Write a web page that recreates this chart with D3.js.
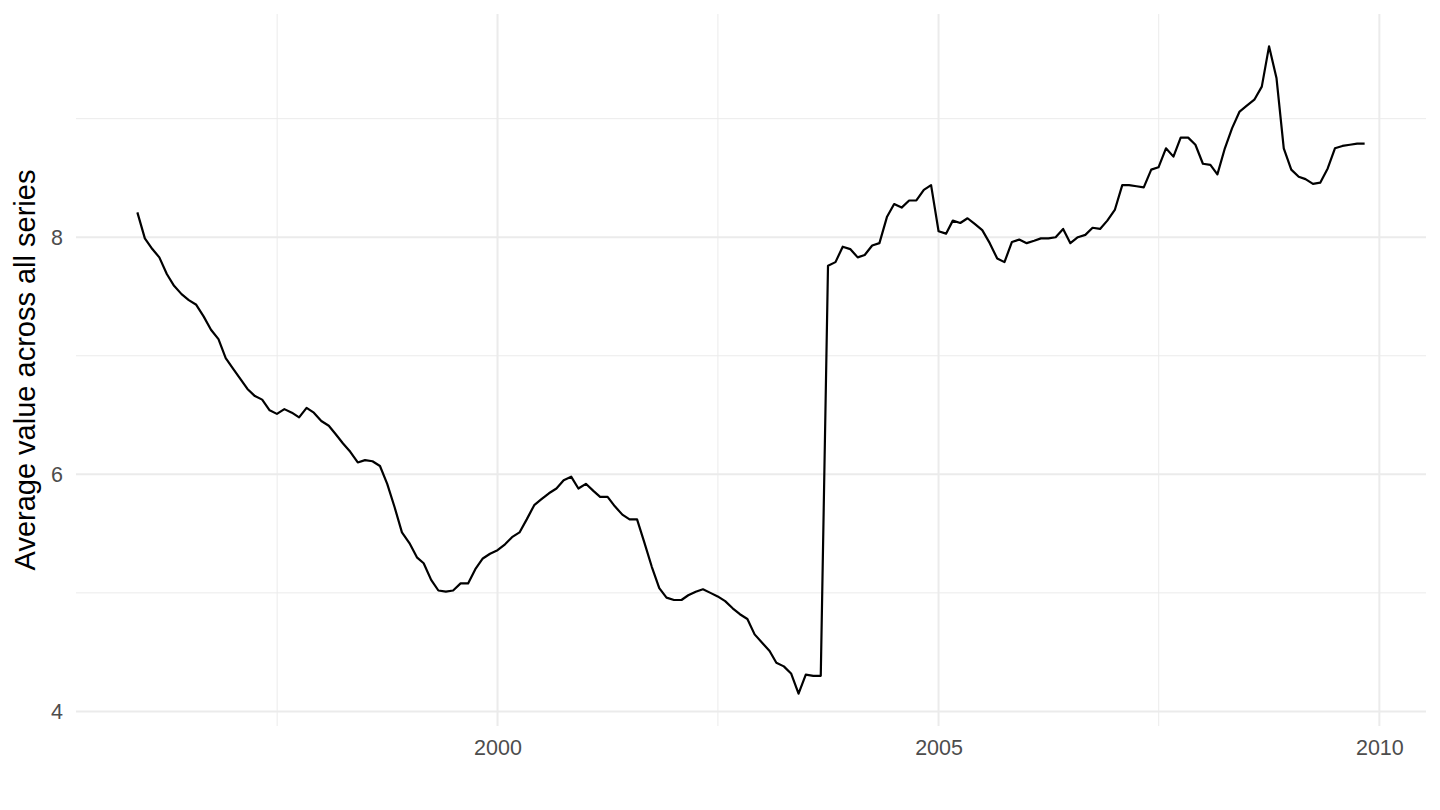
<!DOCTYPE html>
<html>
<head>
<meta charset="utf-8">
<script src="https://cdn.jsdelivr.net/npm/d3@7"></script>
<style>
  html, body { margin: 0; padding: 0; background: #ffffff; }
  svg { display: block; font-family: "Liberation Sans", Arial, Helvetica, sans-serif; }
</style>
</head>
<body>
<svg id="chart" width="1440" height="810"></svg>
<script>
// ---- data ----
const startYear = 1995;
const startMonth = 11; // December (0-based)
const values = [
  8.21, 7.99, 7.90, 7.83, 7.69, 7.59, 7.52, 7.47, 7.43, 7.33, 7.22, 7.14,
  6.98, 6.89, 6.80, 6.72, 6.66, 6.63, 6.54, 6.51, 6.55, 6.52, 6.48, 6.56,
  6.52, 6.45, 6.41, 6.34, 6.26, 6.19, 6.10, 6.12, 6.11, 6.07, 5.92, 5.72,
  5.51, 5.42, 5.30, 5.25, 5.11, 5.02, 5.01, 5.02, 5.08, 5.08, 5.20, 5.29,
  5.33, 5.36, 5.41, 5.47, 5.51, 5.62, 5.74, 5.79, 5.84, 5.88, 5.95, 5.98,
  5.88, 5.92, 5.86, 5.81, 5.81, 5.73, 5.66, 5.62, 5.62, 5.42, 5.22, 5.04,
  4.96, 4.94, 4.94, 4.98, 5.01, 5.03, 5.00, 4.97, 4.93, 4.87, 4.82, 4.78,
  4.65, 4.58, 4.51, 4.41, 4.38, 4.32, 4.15, 4.31, 4.30, 4.30, 7.76, 7.79,
  7.92, 7.90, 7.83, 7.85, 7.93, 7.95, 8.17, 8.28, 8.25, 8.31, 8.31, 8.40,
  8.44, 8.05, 8.03, 8.14, 8.12, 8.16, 8.11, 8.06, 7.95, 7.82, 7.79, 7.96,
  7.98, 7.95, 7.97, 7.99, 7.99, 8.00, 8.07, 7.95, 8.00, 8.02, 8.08, 8.07,
  8.14, 8.23, 8.44, 8.44, 8.43, 8.42, 8.57, 8.59, 8.75, 8.68, 8.84, 8.84,
  8.78, 8.62, 8.61, 8.53, 8.75, 8.92, 9.06, 9.11, 9.16, 9.27, 9.61, 9.34,
  8.75, 8.57, 8.51, 8.49, 8.45, 8.46, 8.58, 8.75, 8.77, 8.78, 8.79, 8.79
];
const xMajorTicks = [2000, 2005, 2010];
const xMinorTicks = [1997.5, 2002.5, 2007.5];
const yMajorTicks = [4, 6, 8];
const yMinorTicks = [5, 7, 9];
const yTitle = "Average value across all series";

// ---- build series ----
const data = values.map((v, i) => ({ date: new Date(startYear, startMonth + i, 1), value: v }));
const decYear = y => new Date(Math.floor(y), Math.round((y % 1) * 12), 1 + ((y % 1) ? 1 : 0));

// ---- layout ----
const panel = { left: 76, right: 1426, top: 14, bottom: 726 };
const svg = d3.select("#chart");

const xExt = d3.extent(data, d => d.date);
const xPad = (xExt[1] - xExt[0]) * 0.05;
const x = d3.scaleTime()
  .domain([new Date(+xExt[0] - xPad), new Date(+xExt[1] + xPad)])
  .range([panel.left, panel.right]);

const yExt = d3.extent(data, d => d.value);
const yPad = (yExt[1] - yExt[0]) * 0.05;
const y = d3.scaleLinear()
  .domain([yExt[0] - yPad, yExt[1] + yPad])
  .range([panel.bottom, panel.top]);

const grid = svg.append("g");
// minor gridlines
grid.selectAll(".ymin").data(yMinorTicks).join("line")
  .attr("x1", panel.left).attr("x2", panel.right)
  .attr("y1", d => y(d)).attr("y2", d => y(d))
  .attr("stroke", "#EBEBEB").attr("stroke-width", 1);
grid.selectAll(".xmin").data(xMinorTicks).join("line")
  .attr("x1", d => x(decYear(d))).attr("x2", d => x(decYear(d)))
  .attr("y1", panel.top).attr("y2", panel.bottom)
  .attr("stroke", "#EBEBEB").attr("stroke-width", 1);
// major gridlines
grid.selectAll(".ymaj").data(yMajorTicks).join("line")
  .attr("x1", panel.left).attr("x2", panel.right)
  .attr("y1", d => y(d)).attr("y2", d => y(d))
  .attr("stroke", "#EBEBEB").attr("stroke-width", 2);
grid.selectAll(".xmaj").data(xMajorTicks).join("line")
  .attr("x1", d => x(new Date(d, 0, 1))).attr("x2", d => x(new Date(d, 0, 1)))
  .attr("y1", panel.top).attr("y2", panel.bottom)
  .attr("stroke", "#EBEBEB").attr("stroke-width", 2);

// axis labels (via d3 axes, no domain / tick lines)
const xAxis = d3.axisBottom(x)
  .tickValues(xMajorTicks.map(d => new Date(d, 0, 1)))
  .tickFormat(d3.timeFormat("%Y"))
  .tickSize(0).tickPadding(14);
const gx = svg.append("g").attr("transform", `translate(0,${panel.bottom})`).call(xAxis);
gx.select(".domain").remove();
gx.attr("font-size", null).attr("font-family", null);
gx.selectAll("text").style("font-size", "21.5px").attr("fill", "#4D4D4D")
  .style("font-family", "Liberation Sans, Arial, sans-serif");

const yAxis = d3.axisLeft(y).tickValues(yMajorTicks).tickFormat(d3.format("d"))
  .tickSize(0).tickPadding(13);
const gy = svg.append("g").attr("transform", `translate(${panel.left},0)`).call(yAxis);
gy.select(".domain").remove();
gy.attr("font-size", null).attr("font-family", null);
gy.selectAll("text").style("font-size", "21.5px").attr("fill", "#4D4D4D")
  .style("font-family", "Liberation Sans, Arial, sans-serif");

// y title
svg.append("text")
  .attr("transform", `translate(35,${(panel.top + panel.bottom) / 2}) rotate(-90)`)
  .attr("text-anchor", "middle")
  .style("font-size", "29px")
  .attr("fill", "#000000")
  .text(yTitle);

// line
const line = d3.line().x(d => x(d.date)).y(d => y(d.value));
svg.append("path")
  .datum(data)
  .attr("fill", "none")
  .attr("stroke", "#000000")
  .attr("stroke-width", 2.2)
  .attr("stroke-linejoin", "round")
  .attr("d", line);
</script>
</body>
</html>
